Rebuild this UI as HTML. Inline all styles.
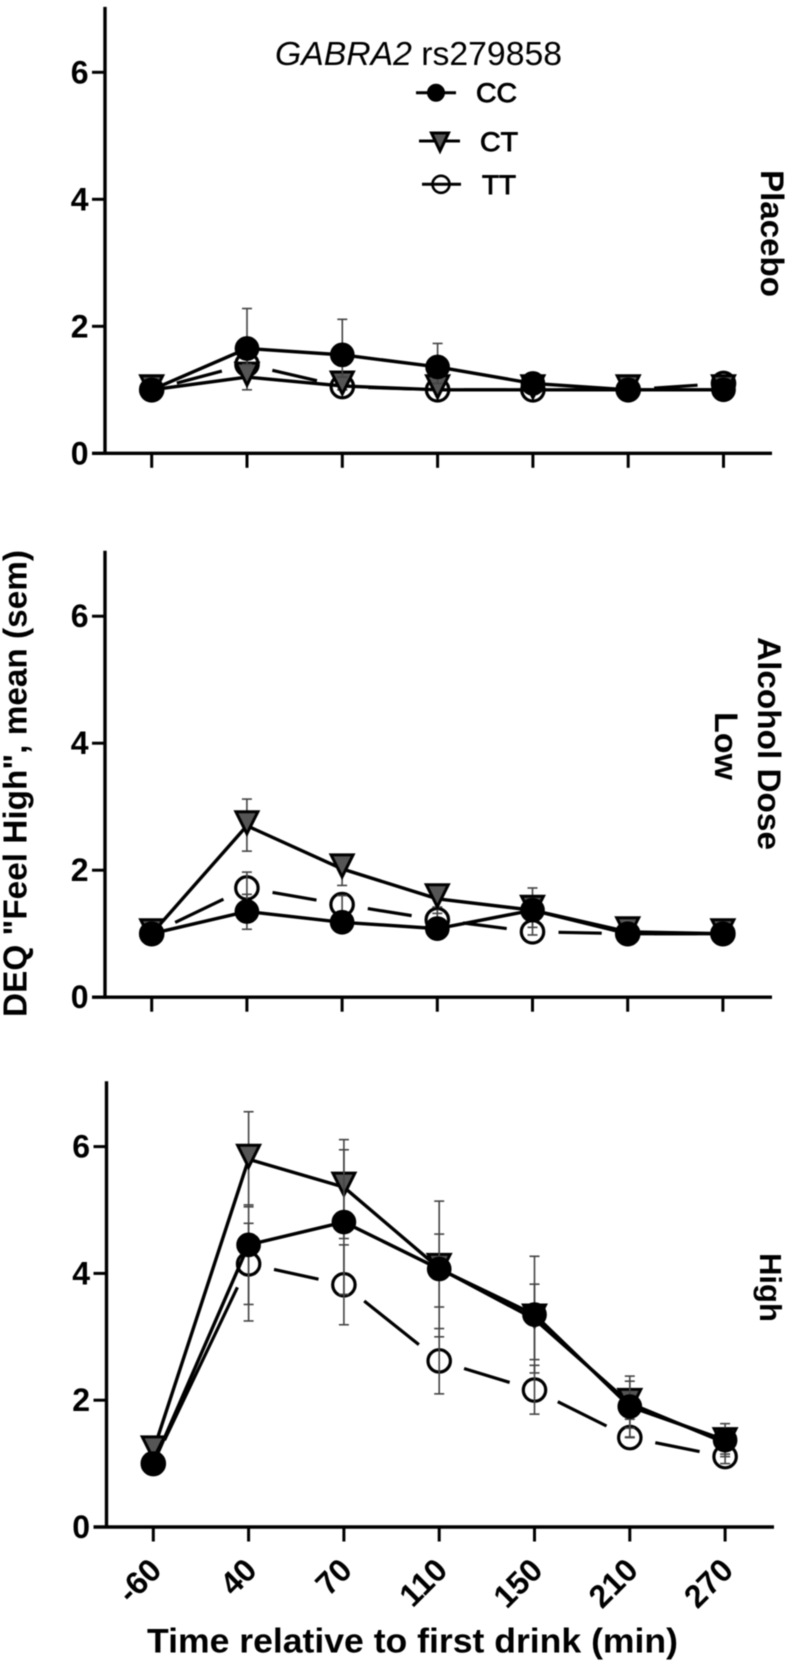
<!DOCTYPE html>
<html lang="en">
<head>
<meta charset="utf-8">
<title>GABRA2 rs279858 DEQ Feel High</title>
<style>
html,body{margin:0;padding:0;background:#fff;}
#chart{display:block;width:800px;height:1665px;filter:blur(0.6px);}
text{font-family:"Liberation Sans",Arial,sans-serif;fill:#000;}
.b{font-weight:700;}
</style>
</head>
<body>
<svg id="chart" xmlns="http://www.w3.org/2000/svg" width="800" height="1665" viewBox="0 0 800 1665"></svg>
<script>
// ---- shared labels ----
const timeLabels = ["-60", "40", "70", "110", "150", "210", "270"];
const yTickValues = [0, 2, 4, 6];

// ---- Placebo ----
const placeboCC = [1.0, 1.65, 1.55, 1.36, 1.1, 1.0, 1.0];
const placeboCCHigh = [1.0, 2.28, 2.11, 1.73, 1.15, 1.0, 1.0];
const placeboCCLow = [1.0, 1.4, 1.2, 1.1, 1.0, 1.0, 1.0];
const placeboCT = [1.0, 1.2, 1.06, 1.0, 1.0, 1.0, 1.0];
const placeboCTHigh = [1.0, 1.42, 1.1, 1.0, 1.0, 1.0, 1.0];
const placeboCTLow = [1.0, 1.0, 1.0, 1.0, 1.0, 1.0, 1.0];
const placeboTT = [1.0, 1.4, 1.05, 1.0, 1.0, 1.0, 1.1];
const placeboTTHigh = [1.0, 1.6, 1.1, 1.0, 1.0, 1.0, 1.18];
const placeboTTLow = [1.0, 1.2, 1.0, 1.0, 1.0, 1.0, 1.0];

// ---- Low dose ----
const lowCC = [1.0, 1.35, 1.18, 1.08, 1.37, 1.0, 1.0];
const lowCCHigh = [1.0, 1.62, 1.3, 1.15, 1.5, 1.0, 1.0];
const lowCCLow = [1.0, 1.07, 1.06, 1.0, 1.2, 1.0, 1.0];
const lowCT = [1.0, 2.7, 2.02, 1.55, 1.37, 1.03, 1.0];
const lowCTHigh = [1.0, 3.12, 2.23, 1.76, 1.72, 1.1, 1.0];
const lowCTLow = [1.0, 2.3, 1.76, 1.32, 1.1, 1.0, 1.0];
const lowTT = [1.0, 1.72, 1.46, 1.22, 1.03, 1.0, 1.0];
const lowTTHigh = [1.0, 1.97, 1.6, 1.42, 1.2, 1.0, 1.0];
const lowTTLow = [1.0, 1.46, 1.3, 1.05, 0.98, 1.0, 1.0];

// ---- High dose ----
const highCC = [1.0, 4.45, 4.81, 4.07, 3.35, 1.9, 1.37];
const highCCHigh = [1.0, 5.08, 5.95, 5.14, 4.27, 2.38, 1.63];
const highCCLow = [1.0, 3.51, 3.67, 3.0, 2.43, 1.42, 1.11];
const highCT = [1.2, 5.8, 5.36, 4.08, 3.28, 1.95, 1.33];
const highCTHigh = [1.25, 6.55, 6.11, 4.62, 3.83, 2.3, 1.5];
const highCTLow = [1.15, 5.05, 4.55, 3.47, 2.64, 1.56, 1.15];
const highTT = [1.0, 4.15, 3.82, 2.62, 2.16, 1.41, 1.11];
const highTTHigh = [1.0, 4.79, 4.45, 3.13, 2.55, 1.7, 1.22];
const highTTLow = [1.0, 3.25, 3.19, 2.1, 1.78, 1.41, 1.0];

const svg = document.getElementById('chart');
const NS = 'http://www.w3.org/2000/svg';

function mk(tag, attrs, parent) {
  const el = document.createElementNS(NS, tag);
  for (const k in attrs) el.setAttribute(k, attrs[k]);
  (parent || svg).appendChild(el);
  return el;
}

function drawCircle(g, cx, cy, r, fill, sw) {
  return mk('circle', {cx: cx, cy: cy, r: r, fill: fill, stroke: '#000', 'stroke-width': sw}, g);
}

function drawTriangle(g, cx, cy, hw, up, down) {
  const pts = (cx - hw) + ',' + (cy - up) + ' ' + (cx + hw) + ',' + (cy - up) + ' ' + cx + ',' + (cy + down);
  return mk('polygon', {points: pts, fill: '#555', stroke: '#000', 'stroke-width': 3, 'stroke-linejoin': 'miter'}, g);
}

function drawErrors(g, xs, hi, lo, yScale) {
  hi.forEach(function (h, i) {
    const l = lo[i];
    if (h === l) return;
    const x = xs(i);
    mk('line', {x1: x, x2: x, y1: yScale(h), y2: yScale(l), stroke: '#444', 'stroke-width': 1.6}, g);
    mk('line', {x1: x - 5, x2: x + 5, y1: yScale(h), y2: yScale(h), stroke: '#444', 'stroke-width': 1.6}, g);
    mk('line', {x1: x - 5, x2: x + 5, y1: yScale(l), y2: yScale(l), stroke: '#444', 'stroke-width': 1.6}, g);
  });
}

function drawPanel(cfg) {
  const panel = mk('g', {});
  
  
  const xs = function (i) { return cfg.x0 + i * cfg.step; };
  const ys = function (v) { return cfg.y0 - v * cfg.unit; };

  // axes
  const yAxis = mk('line', {x1: cfg.ax, x2: cfg.ax, y1: ys(7.03), y2: cfg.y0 + 1.5, stroke: '#000', 'stroke-width': 3.4}, panel);
  
  
  const xAxis = mk('line', {x1: cfg.ax - 13, x2: cfg.right, y1: cfg.y0, y2: cfg.y0, stroke: '#000', 'stroke-width': 3.4}, panel);
  
  

  yTickValues.forEach(function (v) {
    if (v > 0) mk('line', {x1: cfg.ax - 13, x2: cfg.ax, y1: ys(v), y2: ys(v), stroke: '#000', 'stroke-width': 3}, panel);
    const t = mk('text', {x: cfg.ax - 16.5, y: ys(v) + 11, 'text-anchor': 'end', 'font-size': 32, 'class': 'b'}, panel);
    t.textContent = String(v);
    
    
  });
  timeLabels.forEach(function (label, i) {
    mk('line', {x1: xs(i), x2: xs(i), y1: cfg.y0, y2: cfg.y0 + 14.5, stroke: '#000', 'stroke-width': 3}, panel);
    if (cfg.showLabels) {
      const t = mk('text', {x: xs(i) + 10, y: 1572, 'text-anchor': 'end', 'font-size': 32, 'class': 'b',
        transform: 'rotate(-45 ' + (xs(i) + 10) + ' 1572)'}, panel);
      t.textContent = label;
      
      
    }
  });

  // TT: one long dash per segment, with a gap around each marker
  const tt = mk('g', {}, panel);
  
  
  const gap = 26;
  for (let i = 0; i < cfg.tt.length - 1; i++) {
    const ax = xs(i), ay = ys(cfg.tt[i]), bx = xs(i + 1), by = ys(cfg.tt[i + 1]);
    const len = Math.hypot(bx - ax, by - ay);
    const ux = (bx - ax) / len, uy = (by - ay) / len;
    mk('line', {x1: ax + ux * gap, y1: ay + uy * gap, x2: bx - ux * gap, y2: by - uy * gap, stroke: '#000', 'stroke-width': 3.2}, tt);
  }
  cfg.tt.forEach(function (v, i) {
    const m = drawCircle(tt, xs(i), ys(v), 11.2, '#fff', 3.2);
    
    
  });
  drawErrors(tt, xs, cfg.ttHi, cfg.ttLo, ys);

  // CT: solid line with dark-grey down triangles
  const ct = mk('g', {}, panel);
  
  
  drawErrors(ct, xs, cfg.ctHi, cfg.ctLo, ys);
  mk('polyline', {points: cfg.ct.map(function (v, i) { return xs(i) + ',' + ys(v); }).join(' '), fill: 'none', stroke: '#000', 'stroke-width': 3.4}, ct);
  cfg.ct.forEach(function (v, i) {
    const m = drawTriangle(ct, xs(i), ys(v), 11, 14, 8);
    
    
  });

  // CC: solid line with black circles
  const cc = mk('g', {}, panel);
  
  
  drawErrors(cc, xs, cfg.ccHi, cfg.ccLo, ys);
  mk('polyline', {points: cfg.cc.map(function (v, i) { return xs(i) + ',' + ys(v); }).join(' '), fill: 'none', stroke: '#000', 'stroke-width': 3.4}, cc);
  cfg.cc.forEach(function (v, i) {
    const m = drawCircle(cc, xs(i), ys(v), 11.6, '#000', 1.5);
    
    
  });
}

drawPanel({name: 'placebo', ax: 105, right: 772, x0: 151.7, step: 95.3, y0: 453.3, unit: 63.5, showLabels: false,
  cc: placeboCC, ccHi: placeboCCHigh, ccLo: placeboCCLow,
  ct: placeboCT, ctHi: placeboCTHigh, ctLo: placeboCTLow,
  tt: placeboTT, ttHi: placeboTTHigh, ttLo: placeboTTLow});
drawPanel({name: 'low-dose', ax: 105, right: 772, x0: 151.7, step: 95.2, y0: 997.2, unit: 63.5, showLabels: false,
  cc: lowCC, ccHi: lowCCHigh, ccLo: lowCCLow,
  ct: lowCT, ctHi: lowCTHigh, ctLo: lowCTLow,
  tt: lowTT, ttHi: lowTTHigh, ttLo: lowTTLow});
drawPanel({name: 'high-dose', ax: 106.5, right: 774, x0: 153.3, step: 95.3, y0: 1527, unit: 63.4, showLabels: true,
  cc: highCC, ccHi: highCCHigh, ccLo: highCCLow,
  ct: highCT, ctHi: highCTHigh, ctLo: highCTLow,
  tt: highTT, ttHi: highTTHigh, ttLo: highTTLow});

// ---- legend ----
const legend = mk('g', {});



const legendTitle = mk('text', {x: 275, y: 65, 'font-size': 33, textLength: 287, lengthAdjust: 'spacingAndGlyphs'}, legend);


const ital = mk('tspan', {'font-style': 'italic'}, legendTitle);
ital.textContent = 'GABRA2';
const rest = mk('tspan', {}, legendTitle);
rest.textContent = ' rs279858';

const ccEntry = mk('g', {}, legend);


mk('line', {x1: 416, x2: 456, y1: 92.7, y2: 92.7, stroke: '#000', 'stroke-width': 3}, ccEntry);
drawCircle(ccEntry, 436, 92.7, 8.5, '#000', 1);
const ccText = mk('text', {x: 476, y: 102, 'font-size': 27, textLength: 41, lengthAdjust: 'spacingAndGlyphs', stroke: '#000', 'stroke-width': 0.9}, ccEntry);
ccText.textContent = 'CC';

const ctEntry = mk('g', {}, legend);


mk('line', {x1: 419, x2: 460, y1: 141, y2: 141, stroke: '#000', 'stroke-width': 3}, ctEntry);
drawTriangle(ctEntry, 440, 141, 8.5, 8, 10);
const ctText = mk('text', {x: 480, y: 151, 'font-size': 27, textLength: 38, lengthAdjust: 'spacingAndGlyphs', stroke: '#000', 'stroke-width': 0.9}, ctEntry);
ctText.textContent = 'CT';

const ttEntry = mk('g', {}, legend);


drawCircle(ttEntry, 441, 184.3, 8.5, '#fff', 2.6);
mk('line', {x1: 422, x2: 461, y1: 184.3, y2: 184.3, stroke: '#000', 'stroke-width': 3}, ttEntry);
const ttText = mk('text', {x: 482, y: 194, 'font-size': 27, textLength: 34, lengthAdjust: 'spacingAndGlyphs', stroke: '#000', 'stroke-width': 0.9}, ttEntry);
ttText.textContent = 'TT';

// ---- axis titles and panel labels ----
const yTitle = mk('text', {x: 0, y: 0, 'font-size': 33, 'class': 'b', textLength: 467, lengthAdjust: 'spacingAndGlyphs',
  transform: 'translate(26.5 1017) rotate(-90)'});
yTitle.textContent = 'DEQ "Feel High", mean (sem)';



const xTitle = mk('text', {x: 147, y: 1652.5, 'font-size': 34, 'class': 'b', textLength: 531, lengthAdjust: 'spacingAndGlyphs'});
xTitle.textContent = 'Time relative to first drink (min)';



const placeboLabel = mk('text', {x: 0, y: 0, 'font-size': 32, 'class': 'b', textLength: 127, lengthAdjust: 'spacingAndGlyphs',
  transform: 'translate(761 170) rotate(90)'});
placeboLabel.textContent = 'Placebo';



const doseLabel = mk('text', {x: 0, y: 0, 'font-size': 32, 'class': 'b', textLength: 213, lengthAdjust: 'spacingAndGlyphs',
  transform: 'translate(758 637) rotate(90)'});
doseLabel.textContent = 'Alcohol Dose';



const lowLabel = mk('text', {x: 0, y: 0, 'font-size': 32, 'class': 'b', textLength: 68, lengthAdjust: 'spacingAndGlyphs',
  transform: 'translate(715 712) rotate(90)'});
lowLabel.textContent = 'Low';



const highLabel = mk('text', {x: 0, y: 0, 'font-size': 31, 'class': 'b', textLength: 69, lengthAdjust: 'spacingAndGlyphs',
  transform: 'translate(760 1253) rotate(90)'});
highLabel.textContent = 'High';


</script>
</body>
</html>
